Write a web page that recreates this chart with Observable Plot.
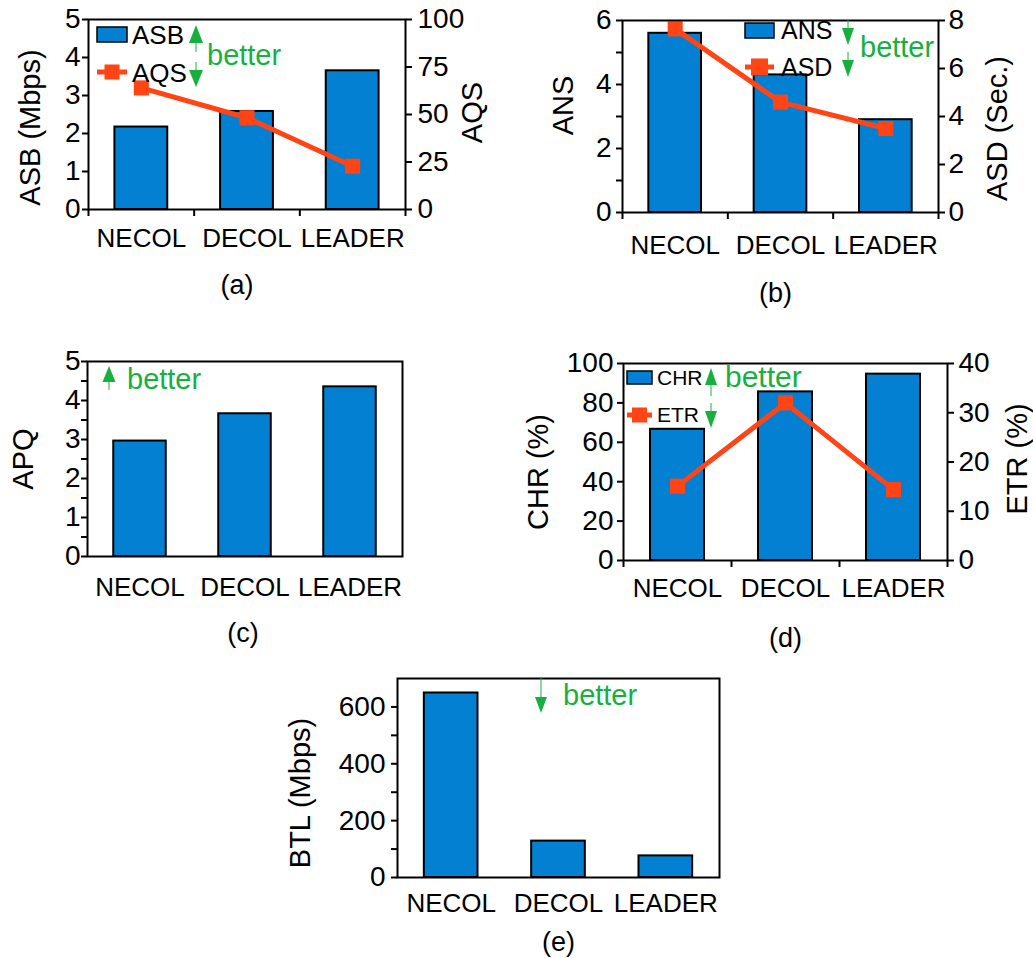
<!DOCTYPE html>
<html><head><meta charset="utf-8">
<script src="https://cdn.jsdelivr.net/npm/d3@7"></script>
<script src="https://cdn.jsdelivr.net/npm/@observablehq/plot@0.6"></script>
<style>
body{margin:0;background:#fff;}
#fig{position:relative;width:1033px;height:958px;overflow:hidden;background:#fff;}
</style></head><body><div id="fig"></div>
<script>
// ---------- data ----------
const categories = ["NECOL", "DECOL", "LEADER"];
// (a)
const asb = [2.17, 2.58, 3.65];
const aqs = [64, 48.3, 22.8];
// (b)
const ans = [5.6, 4.3, 2.9];
const asd = [7.65, 4.6, 3.5];
// (c)
const apq = [2.96, 3.66, 4.35];
// (d)
const chr = [66.6, 85.6, 94.6];
const etr = [15.1, 32.0, 14.4];
// (e)
const btl = [649, 128, 76];

// tick values
const ticksA = [0, 1, 2, 3, 4, 5];
const ticksARight = [0, 25, 50, 75, 100];
const ticksB = [0, 1, 2, 3, 4, 5, 6];
const ticksBRight = [0, 2, 4, 6, 8];
const ticksC = [0, 0.5, 1, 1.5, 2, 2.5, 3, 3.5, 4, 4.5, 5];
const ticksD = [0, 20, 40, 60, 80, 100];
const ticksDRight = [0, 10, 20, 30, 40];
const ticksE = [0, 100, 200, 300, 400, 500, 600];

// ---------- styles ----------
const BLUE = "#0380d2", RED = "#ff4516", GREEN = "#17b03f";
const FONT = '"Liberation Sans", Arial, Helvetica, sans-serif';
const TICKFONT = 28;

function annot(ml, mt, items) {
  return () => {
    const g = d3.create("svg:g").attr("transform", `translate(${ml},${mt})`)
      .attr("font-family", FONT).attr("text-anchor", "start");
    for (const it of items) {
      if (it.k === "swatch") {
        g.append("rect").attr("x", it.x).attr("y", it.y).attr("width", it.w).attr("height", it.h)
          .attr("fill", BLUE).attr("stroke", "black").attr("stroke-width", 1.5);
      } else if (it.k === "key") {
        g.append("line").attr("x1", it.x1).attr("x2", it.x2).attr("y1", it.y).attr("y2", it.y)
          .attr("stroke", RED).attr("stroke-width", 5);
        const m = (it.x1 + it.x2) / 2;
        g.append("rect").attr("x", m - it.s / 2).attr("y", it.y - it.s / 2).attr("width", it.s).attr("height", it.s).attr("fill", RED);
      } else if (it.k === "text") {
        g.append("text").attr("x", it.x).attr("y", it.y).attr("dy", "0.35em").attr("font-size", it.s)
          .attr("text-anchor", "start").attr("fill", it.c || "black").text(it.t);
      } else if (it.k === "arrow") {
        g.append("line").attr("x1", it.x).attr("x2", it.x).attr("y1", it.tail).attr("y2", it.base)
          .attr("stroke", GREEN).attr("stroke-width", 1.3).attr("opacity", 0.75);
        const hw = it.w / 2;
        g.append("path").attr("d", `M${it.x - hw},${it.base}L${it.x + hw},${it.base}L${it.x},${it.tip}Z`).attr("fill", GREEN);
      }
    }
    return g.node();
  };
}

function panel(o) {
  const rows = categories.map((c, i) => ({i, v: o.bars[i], w: o.line ? o.line[i] * o.k : null}));
  const [mt, mr, mb, ml] = o.margin;
  const marks = [
    Plot.rect(rows, {x1: d => d.i + 0.25, x2: d => d.i + 0.75, y1: () => 0, y2: d => d.v,
      fill: BLUE, stroke: "black", strokeWidth: 2}),
  ];
  if (o.line) {
    marks.push(Plot.line(rows, {x: d => d.i + 0.5, y: d => d.w, stroke: RED, strokeWidth: 5}));
    marks.push(Plot.dot(rows, {x: d => d.i + 0.5, y: d => d.w, symbol: "square", r: 8.5, fill: RED, stroke: "none"}));
  }
  marks.push(Plot.frame({stroke: "black", strokeWidth: 2}));
  marks.push(Plot.axisY({anchor: "left", ticks: o.yTicks, tickFormat: o.yFmt, tickSize: 6, tickPadding: o.yPad,
    fontSize: TICKFONT, strokeWidth: 2, label: null}));
  if (o.rTicks) {
    const k = o.k;
    marks.push(Plot.axisY({anchor: "right", ticks: o.rTicks.map(v => v * k), tickFormat: d => String(Math.round(d / k)),
      tickSize: 6, tickPadding: o.rPad, fontSize: TICKFONT, strokeWidth: 2, label: null}));
  }
  if (o.bticks) {
    marks.push(Plot.axisX({ticks: [0, 1, 2, 3], tickSize: 7, tickFormat: () => "", strokeWidth: 2, label: null}));
  }
  marks.push(Plot.axisX({ticks: [0.5, 1.5, 2.5], tickSize: 0, tickPadding: o.catPad,
    tickFormat: d => categories[Math.floor(d)], fontSize: 26, label: null}));
  marks.push(Plot.text([o.title], {frameAnchor: "left", text: d => d, rotate: -90, textAnchor: "middle",
    lineAnchor: "middle", dx: o.tdx, dy: o.tdy, fontSize: 29, fill: "black"}));
  if (o.rtitle) {
    marks.push(Plot.text([o.rtitle], {frameAnchor: "right", text: d => d, rotate: -90, textAnchor: "middle",
      lineAnchor: "middle", dx: o.rdx, dy: o.rdy, fontSize: 29, fill: "black"}));
  }
  marks.push(Plot.text([o.caption], {frameAnchor: "bottom", text: d => d, textAnchor: "middle",
    lineAnchor: "middle", dx: o.cdx, dy: o.cdy, fontSize: 27, fill: "black"}));
  marks.push(annot(ml, mt, o.annot));

  const svg = Plot.plot({
    width: o.width, height: o.height,
    marginTop: mt, marginRight: mr, marginBottom: mb, marginLeft: ml,
    style: {background: "transparent", fontFamily: FONT, fontSize: "26px", color: "black", overflow: "visible"},
    x: {type: "linear", domain: [0, 3]},
    y: {domain: o.yDomain, nice: false},
    marks
  });
  svg.style.position = "absolute";
  svg.style.left = o.sx + "px";
  svg.style.top = o.sy + "px";
  svg.style.maxWidth = "none";
  document.getElementById("fig").appendChild(svg);
}

// (a)
panel({
  sx: 0, sy: 0, width: 500, height: 310, margin: [19, 95, 101, 88],
  bars: asb, line: aqs, k: 5 / 100, yDomain: [0, 5],
  yTicks: ticksA, yFmt: d => String(d), yPad: 2, rTicks: ticksARight, rPad: 6,
  bticks: true, catPad: 19,
  title: "ASB (Mbps)", tdx: -58, tdy: 13, rtitle: "AQS", rdx: 67, rdy: -2,
  caption: "(a)", cdx: -10, cdy: 76,
  annot: [
    {k: "swatch", x: 9, y: 8, w: 30, h: 15},
    {k: "text", x: 44, y: 16, t: "ASB", s: 26},
    {k: "key", x1: 9, x2: 39, y: 53, s: 15},
    {k: "text", x: 44, y: 54, t: "AQS", s: 26},
    {k: "arrow", x: 108, tail: 33, base: 24, tip: 6, w: 14},
    {k: "arrow", x: 108, tail: 43, base: 51, tip: 68, w: 14},
    {k: "text", x: 119, y: 36, t: "better", s: 29, c: GREEN}
  ]
});

// (b)
panel({
  sx: 515, sy: 0, width: 518, height: 310, margin: [20, 95, 98, 107],
  bars: ans, line: asd, k: 6 / 8, yDomain: [0, 6],
  yTicks: ticksB, yFmt: d => (d % 2 === 0 ? String(d) : ""), yPad: 5, rTicks: ticksBRight, rPad: 4,
  bticks: true, catPad: 23,
  title: "ANS", tdx: -59, tdy: -11, rtitle: "ASD (Sec.)", rdx: 59, rdy: 12,
  caption: "(b)", cdx: -5, cdy: 81,
  annot: [
    {k: "swatch", x: 123, y: 3, w: 29, h: 15},
    {k: "text", x: 159, y: 10, t: "ANS", s: 25},
    {k: "key", x1: 123, x2: 152, y: 47, s: 17},
    {k: "text", x: 159, y: 47, t: "ASD", s: 25},
    {k: "arrow", x: 226, tail: 0, base: 8, tip: 25, w: 12},
    {k: "arrow", x: 226, tail: 32, base: 40, tip: 57, w: 12},
    {k: "text", x: 238, y: 27, t: "better", s: 29, c: GREEN}
  ]
});

// (c)
panel({
  sx: 0, sy: 330, width: 470, height: 330, margin: [31, 68, 104, 87],
  bars: apq, yDomain: [0, 5],
  yTicks: ticksC, yFmt: d => (Number.isInteger(d) ? String(d) : ""), yPad: 1,
  bticks: false, catPad: 21,
  title: "APQ", tdx: -64, tdy: 0,
  caption: "(c)", cdx: -2, cdy: 77,
  annot: [
    {k: "arrow", x: 22, tail: 29, base: 21, tip: 5, w: 13},
    {k: "text", x: 40, y: 18, t: "better", s: 29, c: GREEN}
  ]
});

// (d)
panel({
  sx: 515, sy: 330, width: 518, height: 330, margin: [33, 86, 100, 108],
  bars: chr, line: etr, k: 100 / 40, yDomain: [0, 100],
  yTicks: ticksD, yFmt: d => String(d), yPad: 4, rTicks: ticksDRight, rPad: 5,
  bticks: true, catPad: 18,
  title: "CHR (%)", tdx: -85, tdy: 10, rtitle: "ETR (%)", rdx: 70, rdy: -3,
  caption: "(d)", cdx: 0, cdy: 78,
  annot: [
    {k: "swatch", x: 4, y: 8, w: 25, h: 13},
    {k: "text", x: 34, y: 15, t: "CHR", s: 21},
    {k: "key", x1: 4, x2: 29, y: 52, s: 15},
    {k: "text", x: 34, y: 52, t: "ETR", s: 21},
    {k: "arrow", x: 88, tail: 33, base: 22, tip: 5, w: 12},
    {k: "arrow", x: 88, tail: 40, base: 48, tip: 65, w: 12},
    {k: "text", x: 102, y: 13, t: "better", s: 30, c: GREEN}
  ]
});

// (e)
panel({
  sx: 250, sy: 660, width: 520, height: 298, margin: [18, 51, 81, 147],
  bars: btl, yDomain: [0, 700],
  yTicks: ticksE, yFmt: d => (d % 200 === 0 ? String(d) : ""), yPad: 6,
  bticks: false, catPad: 16,
  title: "BTL (Mbps)", tdx: -97, tdy: 15,
  caption: "(e)", cdx: 0, cdy: 65,
  annot: [
    {k: "arrow", x: 144, tail: -1, base: 19, tip: 35, w: 12},
    {k: "text", x: 166, y: 17, t: "better", s: 29, c: GREEN}
  ]
});
</script>
</body></html>
